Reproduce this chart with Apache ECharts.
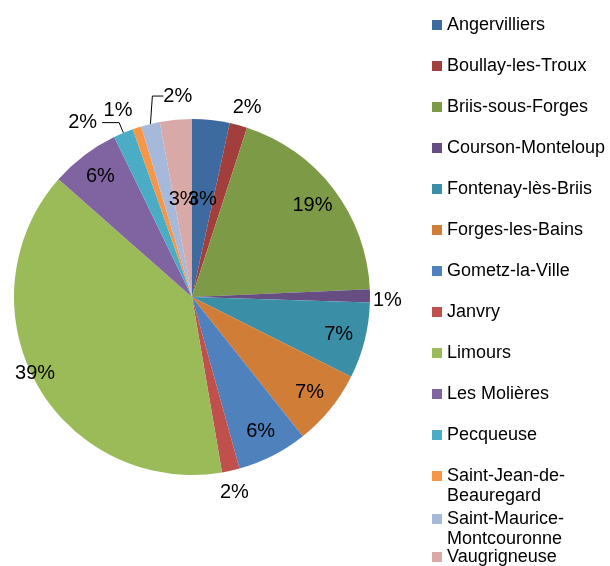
<!DOCTYPE html>
<html>
<head>
<meta charset="utf-8">
<style>
  html, body { margin: 0; padding: 0; background: #fff; }
  #chart { width: 610px; height: 566px; }
</style>
<script src="https://cdn.jsdelivr.net/npm/echarts@6/dist/echarts.min.js"></script>
</head>
<body>
<div id="chart"></div>
<script>
// communes, in slice order (clockwise from 12 o'clock)
const categories = [
  'Angervilliers', 'Boullay-les-Troux', 'Briis-sous-Forges', 'Courson-Monteloup',
  'Fontenay-lès-Briis', 'Forges-les-Bains', 'Gometz-la-Ville', 'Janvry',
  'Limours', 'Les Molières', 'Pecqueuse', 'Saint-Jean-de-Beauregard',
  'Saint-Maurice-Montcouronne', 'Vaugrigneuse'
]
// share of total (%)
const shares = [3.4, 1.6, 19.3, 1.2, 6.9, 6.9, 6.4, 1.6, 39.2, 6.3, 1.8, 0.8, 1.7, 2.9]
// legend text as wrapped in the original
const legendText = [
  'Angervilliers', 'Boullay-les-Troux', 'Briis-sous-Forges', 'Courson-Monteloup',
  'Fontenay-lès-Briis', 'Forges-les-Bains', 'Gometz-la-Ville', 'Janvry',
  'Limours', 'Les Molières', 'Pecqueuse', 'Saint-Jean-de-\nBeauregard',
  'Saint-Maurice-\nMontcouronne', 'Vaugrigneuse'
]

const colors = [
  '#3d6a9f', '#a23f3c', '#7d9a46', '#664e83', '#3a8fa6', '#d07d38', '#4f81bd',
  '#c0504d', '#9bbb59', '#8064a2', '#4bacc6', '#f79646', '#a7b9db', '#d9a9a8'
]

const FONT = '"Liberation Sans", Arial, sans-serif'
const CX = 192, CY = 297, R = 178
const total = shares.reduce((a, b) => a + b, 0)

// labels drawn outside the pie, with their leader line settings
const outside = {
  'Boullay-les-Troux': { len: 5, len2: 0, line: false, nudge: [-12, -13] },
  'Courson-Monteloup': { len: 5, len2: 0, line: false, nudge: [-7, 5] },
  'Janvry': { len: 5, len2: 0, line: false, nudge: [-17, 17] },
  'Pecqueuse': { len: 11, len2: 17, line: true, nudge: null },
  'Saint-Jean-de-Beauregard': { len: 5, len2: 0, line: false, nudge: [2, -12] },
  'Saint-Maurice-Montcouronne': { len: 5, len2: 11, line: true, nudge: [59, -23] }
}
// inside labels: distance from centre as a fraction of the radius
const insideRadius = { 'Angervilliers': 0.55, 'Vaugrigneuse': 0.55, 'Limours': 0.99 }
const insideShift = { 'Limours': [-3, -9] }

const chart = echarts.init(document.getElementById('chart'))

const seriesData = categories.map((name, i) => {
  const o = outside[name]
  return {
    name: name,
    value: shares[i],
    itemStyle: { color: colors[i] },
    label: { position: o ? 'outside' : 'inside' },
    labelLine: o
      ? { show: o.line, length: o.len, length2: o.len2 }
      : { show: false }
  }
})

// wrapped entries get an empty first line so the marker sits on the first text line
const legendLabel = name => {
  const t = legendText[categories.indexOf(name)]
  return t.indexOf('\n') >= 0 ? '\n' + t : t
}

const legendBase = {
  orient: 'vertical',
  left: 432,
  padding: 0,
  icon: 'rect',
  itemWidth: 10,
  itemHeight: 10,
  selectedMode: false,
  formatter: legendLabel,
  textStyle: { color: '#000', fontSize: 18, lineHeight: 20, fontFamily: FONT }
}
const wrappedText = { color: '#000', fontSize: 18, lineHeight: 20, fontFamily: FONT }

const option = {
  backgroundColor: '#fff',
  animation: false,
  legend: [
    Object.assign({}, legendBase, { top: 15, itemGap: 21, data: categories.slice(0, 11) }),
    Object.assign({}, legendBase, { top: 446, data: [categories[11]], textStyle: wrappedText }),
    Object.assign({}, legendBase, { top: 489, data: [categories[12]], textStyle: wrappedText }),
    Object.assign({}, legendBase, { top: 547, data: [categories[13]] })
  ],
  series: [
    {
      type: 'pie',
      center: [CX, CY],
      radius: R,
      startAngle: 90,
      clockwise: true,
      avoidLabelOverlap: false,
      label: {
        color: '#000',
        fontSize: 20,
        fontFamily: FONT,
        formatter: p => Math.round(p.value / total * 100) + '%'
      },
      labelLine: {
        lineStyle: { color: '#000', width: 1 },
        minTurnAngle: 20
      },
      emphasis: { disabled: true },
      labelLayout: function (p) {
        const name = categories[p.dataIndex]
        const lr = p.labelRect
        let x = lr.x + lr.width / 2
        let y = lr.y + lr.height / 2
        const o = outside[name]
        if (o) {
          if (!o.nudge) return {}
          x += o.nudge[0]
          y += o.nudge[1]
        } else {
          const vx = x - CX, vy = y - CY
          const d = Math.hypot(vx, vy) || 1
          const f = insideRadius[name] || 0.85
          const s = insideShift[name] || [0, 0]
          x = CX + vx / d * f * R + s[0]
          y = CY + vy / d * f * R + s[1]
        }
        return { x: x, y: y, align: 'center', verticalAlign: 'middle' }
      },
      data: seriesData
    }
  ]
}

chart.setOption(option)
window.addEventListener('resize', () => chart.resize())
</script>
</body>
</html>
